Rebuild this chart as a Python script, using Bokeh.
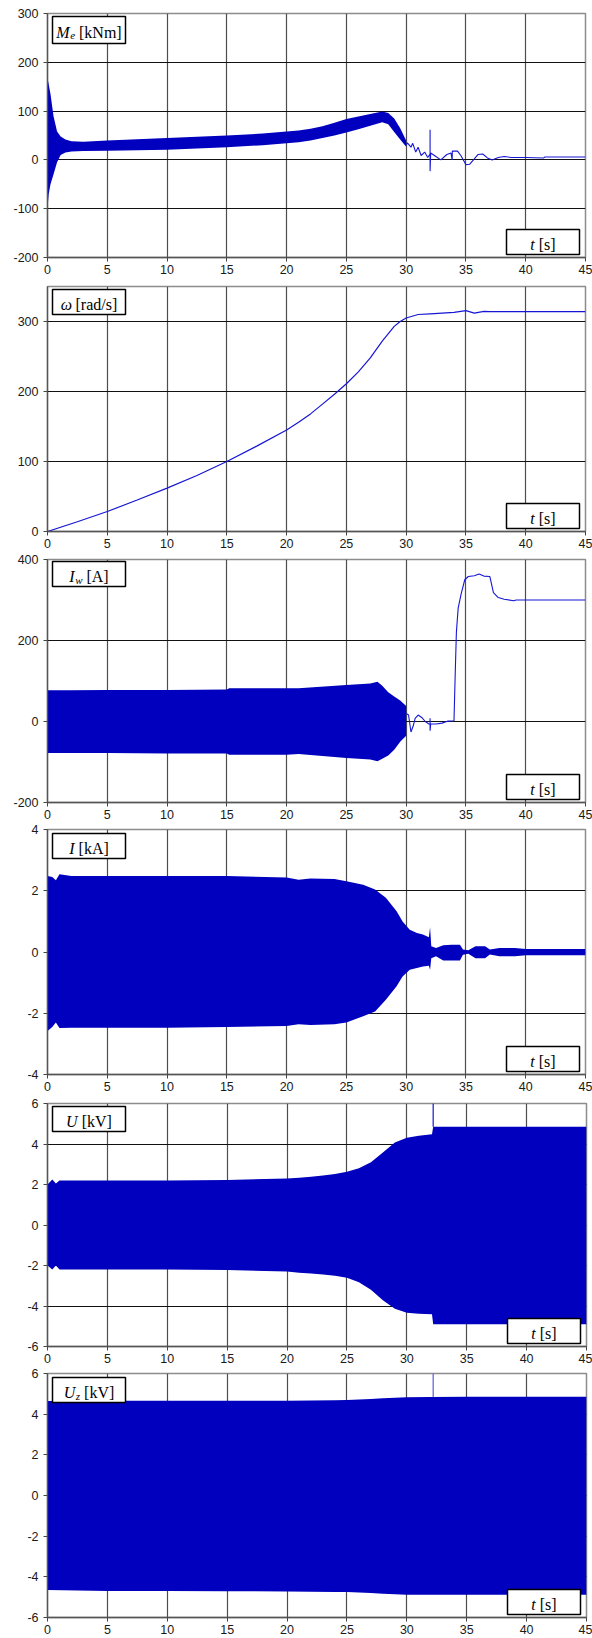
from bokeh.plotting import figure
from bokeh.layouts import column
from bokeh.models import FixedTicker, Range1d
from bokeh.core.properties import value
from bokeh.embed import file_html
from bokeh.resources import INLINE

# ---------------- data ----------------
# Panel 1: electromagnetic torque Me [kNm]  (oscillation envelope, then single trace)
me_env_t = [0, 0.1, 0.25, 0.5, 0.8, 1.1, 1.5, 2.0, 3.0, 5, 10, 15, 18, 20, 21, 22, 23, 24, 25, 26, 27,
            28, 28.5, 29, 29.5, 30]
me_env_up = [168, 155, 135, 90, 58, 48, 42, 38, 37, 40, 45, 50, 54, 58, 60, 64, 69, 76, 84, 89, 94,
             99, 96, 85, 65, 40]
me_env_lo = [-100, -70, -50, -30, -5, 10, 15, 17, 18, 19, 21, 26, 30, 34, 36, 40, 45, 50, 56, 63, 70,
             77, 73, 57, 42, 27]
me_line_t = [30, 30.1, 30.4, 30.55, 30.8, 31.0, 31.25, 31.55, 31.8, 32.0, 32.0, 32.0, 32.05, 32.3, 32.9,
             33.4, 33.75, 33.85, 33.86, 34.3, 34.6, 35.0, 35.3, 35.7, 36.0, 36.4, 36.8, 37.2, 37.7,
             38.2, 38.8, 40, 41.5, 41.6, 45]
me_line_v = [30, 35, 26, 34, 16, 26, 9, 16, 5, 12, 62, -23, 14, 10, 0,
             11, 14, 0, 18, 18, 8, -10, -9, 2, 11, 12, 4, 0, 5,
             7, 5, 5, 4, 6, 6]

# Panel 2: speed omega [rad/s]
w_t = [0, 2.5, 5, 7.5, 10, 12.5, 15, 17.5, 20, 21, 22, 23, 24, 25, 26, 27, 28, 29, 29.5, 30, 31, 32,
       33, 34, 35, 35.7, 36.5, 37, 40, 45]
w_v = [0, 14, 28.5, 45, 62, 80, 100, 122, 145, 156, 168, 182, 196, 211, 228, 248, 272, 293, 300, 305,
       310, 311, 312, 313, 315.5, 312, 314.5, 314, 314, 314]

# Panel 3: excitation current Iw [A]
iw_env_t = [0, 0.05, 2, 5, 10, 15, 15.2, 20, 21, 25, 27, 27.6, 28, 28.5, 29, 29.5, 30]
iw_env_up = [75, 77, 77, 78, 78, 79, 82, 82, 82, 90, 94, 98, 88, 72, 62, 52, 38]
iw_env_lo = [-95, -78, -78, -78, -79, -79, -82, -82, -80, -90, -94, -98, -92, -84, -70, -50, -35]
iw_line_t = [30.0, 30.2, 30.4, 30.6, 30.75, 31.0, 31.3, 31.6, 31.9, 32.0, 32.0, 32.0, 32.05, 32.5,
             33.0, 33.5, 34.0, 34.1, 34.2, 34.35, 34.6, 34.9, 35.2, 35.7, 36.1, 36.5, 37.0, 37.3,
             37.7, 38.2, 39.0, 39.2, 45]
iw_line_v = [20, 16, -26, -10, 8, 16, 10, 0, -6, -6, 8, -23, -6, -6,
             -4, 1, 2, 114, 220, 280, 315, 350, 358, 360, 364, 359, 358, 318,
             306, 302, 298, 300, 300]

# Panel 4: stator current I [kA]
i_env_t = [0, 0.4, 0.7, 1.0, 2, 5, 10, 15, 20, 21, 22, 24, 25, 26.4, 27.4, 28.3, 29.2, 29.7, 30.3,
           30.9, 31.4, 31.9, 32.0, 32.1, 32.5, 33.1, 33.8, 34.5, 34.75, 35.2, 35.8, 36.6, 37.0,
           37.8, 39.1, 40, 45]
i_env_up = [2.48, 2.45, 2.34, 2.54, 2.48, 2.48, 2.48, 2.48, 2.43, 2.36, 2.4, 2.38, 2.31, 2.2, 2.04,
            1.77, 1.33, 1.0, 0.73, 0.62, 0.57, 0.48, 0.81, 0.19, 0.13, 0.22, 0.24, 0.24, 0.08,
            0.06, 0.19, 0.19, 0.08, 0.13, 0.13, 0.1, 0.1]
i_env_lo = [-2.58, -2.45, -2.3, -2.48, -2.47, -2.47, -2.47, -2.45, -2.42, -2.36, -2.38, -2.36, -2.3,
            -2.1, -1.94, -1.56, -1.12, -0.8, -0.58, -0.52, -0.47, -0.45, -0.58, -0.2, -0.14, -0.28,
            -0.28, -0.28, -0.09, -0.06, -0.2, -0.2, -0.08, -0.14, -0.14, -0.11, -0.11]

# Panel 5: stator voltage U [kV]
u_env_t = [0, 0.4, 0.7, 1.0, 1.5, 5, 10, 15, 20, 21, 22, 23, 24, 25, 26, 27, 28, 29, 30, 31, 32.1,
           32.2, 45]
u_env_up = [2.0, 2.25, 2.05, 2.2, 2.2, 2.2, 2.2, 2.22, 2.3, 2.33, 2.38, 2.44, 2.52, 2.63, 2.8, 3.1,
            3.58, 4.08, 4.31, 4.41, 4.48, 4.85, 4.85]
u_env_lo = [-2.0, -2.2, -2.0, -2.2, -2.2, -2.2, -2.2, -2.22, -2.3, -2.36, -2.4, -2.45, -2.5, -2.6,
            -2.83, -3.2, -3.72, -4.14, -4.33, -4.38, -4.41, -4.9, -4.9]
u_spike_t = [32.2, 32.2]
u_spike_v = [4.85, 6.0]

# Panel 6: network voltage Uz [kV]
uz_env_t = [0, 5, 10, 15, 20, 24, 25, 27, 28, 30, 32, 35, 40, 45]
uz_env_up = [4.65, 4.66, 4.66, 4.66, 4.66, 4.68, 4.7, 4.75, 4.78, 4.83, 4.85, 4.86, 4.86, 4.86]
uz_env_lo = [-4.65, -4.7, -4.7, -4.71, -4.72, -4.74, -4.75, -4.8, -4.83, -4.88, -4.88, -4.88,
             -4.88, -4.88]
uz_spike_t = [32.2, 32.2]
uz_spike_v = [4.85, 6.0]

x_ticks = [0, 5, 10, 15, 20, 25, 30, 35, 40, 45]

# ---------------- styling ----------------
FILL = "#0000BE"
LINE = "#1616D4"
AXIS_FONT = "Liberation Sans"
SERIF = "Liberation Serif"

W_REG = {'[': .333, ']': .333, 'k': .5, 'N': .722, 'm': .778, 'r': .333, 'a': .444, 'd': .5,
         '/': .278, 's': .389, 'A': .722, 'V': .722, ' ': .25}
W_IT = {'M': .833, 'e': .444, 'ω': .67, 'I': .333, 'w': .667, 'U': .722, 'z': .389, 't': .278}


def width_of(txt, size, italic):
    tbl = W_IT if italic else W_REG
    return sum(tbl.get(c, .5) for c in txt) * size


def make_fig(y0, y1, yticks, left, fw, fh, top, right):
    p = figure(frame_width=fw, frame_height=fh, x_range=Range1d(0, 45), y_range=Range1d(y0, y1),
               output_backend="svg", toolbar_location=None,
               min_border_left=left, min_border_right=right, min_border_top=top,
               min_border_bottom=21)
    p.xaxis.ticker = FixedTicker(ticks=x_ticks)
    p.yaxis.ticker = FixedTicker(ticks=yticks)
    p.yaxis.major_label_overrides = {v: ("-" + str(abs(v)) if v < 0 else str(v)) for v in yticks}
    for ax in (p.xaxis, p.yaxis):
        ax.major_label_text_font = AXIS_FONT
        ax.major_label_text_font_size = "12.5px"
        ax.major_label_text_color = "#1a1a1a"
        ax.major_tick_out = 4
        ax.major_tick_in = 0
        ax.minor_tick_out = 0
        ax.minor_tick_in = 0
        ax.axis_line_color = "#555555"
        ax.axis_line_width = 1.3
        ax.major_tick_line_color = "#444444"
    p.xaxis.major_label_standoff = 3
    p.yaxis.major_label_standoff = 5
    p.xgrid.grid_line_color = "#4d4d4d"
    p.xgrid.grid_line_width = 1.2
    p.ygrid.grid_line_color = "#111111"
    p.ygrid.grid_line_width = 1
    p.outline_line_color = "#8c8c8c"
    p.outline_line_width = 1.5
    p.background_fill_color = "white"
    p.border_fill_color = "white"
    p._geom = (fw, fh, y0, y1)
    return p


def px2data(p, px, py):
    fw, fh, y0, y1 = p._geom
    return 45.0 * px / fw, y1 - (y1 - y0) * py / fh


def boxed_label(p, pieces, bx, by, bw, bh):
    # bx, by: box left/top offsets in pixels from frame left/top
    l, t = px2data(p, bx, by)
    r, b = px2data(p, bx + bw, by + bh)
    p.quad(left=[l], right=[r], top=[t], bottom=[b], fill_color="white",
           line_color="black", line_width=1.5)
    total = 0
    for txt, italic, sub, gap in pieces:
        size = 11 if sub else 16
        total += width_of(txt, size, italic) + gap
    cx = bx + (bw - total) / 2.0
    base = by + bh / 2.0 + 2.5
    for txt, italic, sub, gap in pieces:
        size = 11 if sub else 16
        cx += gap
        xx, yy = px2data(p, cx, base + (3.0 if sub else 0))
        p.text(x=[xx], y=[yy], text=[txt], text_font=value(SERIF),
               text_font_size=f"{size}px", text_font_style="italic" if italic else "normal",
               text_align="left", text_baseline="alphabetic", text_color="black")
        cx += width_of(txt, size, italic)


def t_box(p):
    fw, fh, _, _ = p._geom
    boxed_label(p, [("t", True, False, 0), ("[s]", False, False, 4)], fw - 79, fh - 28, 73, 25)


# Panel 1
p1 = make_fig(-200, 300, [-200, -100, 0, 100, 200, 300], 43, 538, 244, 13, 11)
p1.varea(x=me_env_t, y1=me_env_lo, y2=me_env_up, fill_color=FILL)
p1.line(me_line_t, me_line_v, line_color=LINE, line_width=1.1)
boxed_label(p1, [("M", True, False, 0), ("e", True, True, 0.5), ("[kNm]", False, False, 4)], 5, 3, 73, 27)
t_box(p1)

# Panel 2
p2 = make_fig(0, 350, [0, 100, 200, 300], 43, 538, 245, 8, 11)
p2.line(w_t, w_v, line_color=LINE, line_width=1.2)
boxed_label(p2, [("ω", True, False, 0), ("[rad/s]", False, False, 4)], 5, 3, 73, 25)
t_box(p2)

# Panel 3
p3 = make_fig(-200, 400, [-200, 0, 200, 400], 43, 538, 243, 7, 11)
p3.varea(x=iw_env_t, y1=iw_env_lo, y2=iw_env_up, fill_color=FILL)
p3.line(iw_line_t, iw_line_v, line_color=LINE, line_width=1.1)
boxed_label(p3, [("I", True, False, 0), ("w", True, True, 0.5), ("[A]", False, False, 4)], 5, 2, 73, 25)
t_box(p3)

# Panel 4
p4 = make_fig(-4, 4, [-4, -2, 0, 2, 4], 43, 538, 245, 6, 11)
p4.varea(x=i_env_t, y1=i_env_lo, y2=i_env_up, fill_color=FILL)
boxed_label(p4, [("I", True, False, 0), ("[kA]", False, False, 4)], 5, 4, 73, 25)
t_box(p4)

# Panel 5
p5 = make_fig(-6, 6, [-6, -4, -2, 0, 2, 4, 6], 47, 539, 243, 8, 6)
p5.varea(x=u_env_t, y1=u_env_lo, y2=u_env_up, fill_color=FILL)
p5.line(u_spike_t, u_spike_v, line_color=LINE, line_width=1.2)
boxed_label(p5, [("U", True, False, 0), ("[kV]", False, False, 4)], 5, 3, 73, 25)
t_box(p5)

# Panel 6
p6 = make_fig(-6, 6, [-6, -4, -2, 0, 2, 4, 6], 47, 539, 244, 6, 6)
p6.varea(x=uz_env_t, y1=uz_env_lo, y2=uz_env_up, fill_color=FILL)
p6.line(uz_spike_t, uz_spike_v, line_color="#5a5ae0", line_width=1.2)
boxed_label(p6, [("U", True, False, 0), ("z", True, True, 0.5), ("[kV]", False, False, 4)], 5, 4, 73, 25)
t_box(p6)

for p in (p1, p2, p3, p4, p5, p6):
    del p._geom

layout = column(p1, p2, p3, p4, p5, p6, spacing=0)
open("out.html", "w").write(file_html(layout, INLINE))
